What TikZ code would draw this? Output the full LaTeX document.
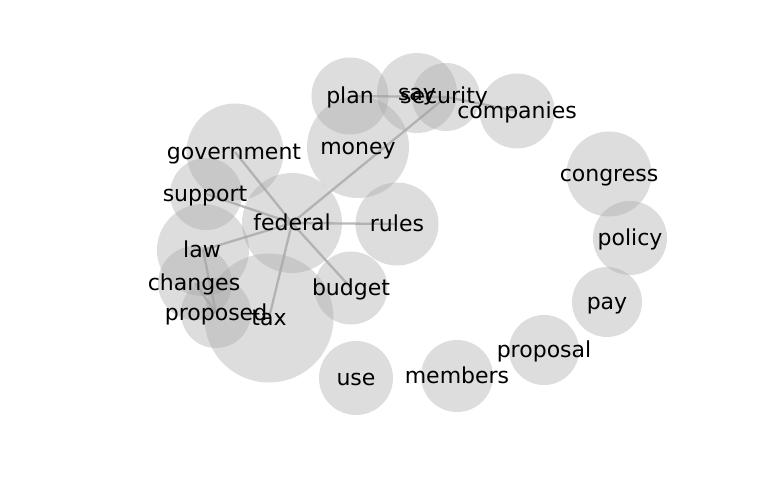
\documentclass[tikz,border=0pt]{standalone}
\usepackage{fontspec}
\setmainfont{DejaVu Sans}
\definecolor{nodefill}{gray}{0.65}
\definecolor{edgecol}{gray}{0.5}
\tikzset{
  bub/.style={circle, fill=nodefill, fill opacity=0.38, draw=none, inner sep=0pt, minimum size=#1},
  word/.style={font=\fontsize{22}{26}\selectfont, text=black, inner sep=0pt, text height=18.7pt, text depth=3.2pt},
  edge/.style={draw=edgecol, draw opacity=0.55, line width=2.3pt}
}
\begin{document}
\begin{tikzpicture}[x=1pt,y=-1pt]
\useasboundingbox (0,0) rectangle (768,500);
% circle centres
\coordinate (plan) at (350,96);
\coordinate (say) at (417,93);
\coordinate (security) at (446,97);
\coordinate (companies) at (517,111);
\coordinate (money) at (358,147);
\coordinate (government) at (235,152);
\coordinate (support) at (206,194);
\coordinate (federal) at (292,223);
\coordinate (rules) at (397,224);
\coordinate (law) at (203,250);
\coordinate (changes) at (195,283);
\coordinate (proposed) at (216,313);
\coordinate (tax) at (269,318);
\coordinate (budget) at (351,288);
\coordinate (congress) at (609,174);
\coordinate (policy) at (630,238);
\coordinate (pay) at (607,302);
\coordinate (proposal) at (544,350);
\coordinate (members) at (457,376);
\coordinate (use) at (356,378);
% edges
\draw[edge] (federal) -- (government);
\draw[edge] (federal) -- (support);
\draw[edge] (federal) -- (law);
\draw[edge] (federal) -- (rules);
\draw[edge] (federal) -- (budget);
\draw[edge] (federal) -- (tax);
\draw[edge] (federal) -- (security);
\draw[edge] (plan) -- (security);
\draw[edge] (security) -- (companies);
\draw[edge] (law) -- (proposed);
\draw[edge] (changes) -- (proposed);
% bubbles
\node[bub=77pt] (cplan) at (plan) {};
\node[bub=80pt] (csay) at (say) {};
\node[bub=68pt] (csecurity) at (security) {};
\node[bub=75pt] (ccompanies) at (companies) {};
\node[bub=102pt] (cmoney) at (money) {};
\node[bub=97pt] (cgovernment) at (government) {};
\node[bub=72pt] (csupport) at (support) {};
\node[bub=100pt] (cfederal) at (federal) {};
\node[bub=83pt] (crules) at (rules) {};
\node[bub=92pt] (claw) at (law) {};
\node[bub=74pt] (cchanges) at (changes) {};
\node[bub=70pt] (cproposed) at (proposed) {};
\node[bub=129pt] (ctax) at (tax) {};
\node[bub=73pt] (cbudget) at (budget) {};
\node[bub=85pt] (ccongress) at (congress) {};
\node[bub=74pt] (cpolicy) at (policy) {};
\node[bub=70pt] (cpay) at (pay) {};
\node[bub=70pt] (cproposal) at (proposal) {};
\node[bub=72pt] (cmembers) at (members) {};
\node[bub=74pt] (cuse) at (use) {};
% labels
\node[word] (tplan) at (plan) {plan};
\node[word] (tsay) at (say) {say};
\node[word] (tsecurity) at (444,96) {security};
\node[word] (tcompanies) at (companies) {companies};
\node[word] (tmoney) at (money) {money};
\node[word] (tgovernment) at (234,152) {government};
\node[word] (tsupport) at (205,194) {support};
\node[word] (tfederal) at (federal) {federal};
\node[word] (trules) at (rules) {rules};
\node[word] (tlaw) at (202,250) {law};
\node[word] (tchanges) at (194,283) {changes};
\node[word] (tproposed) at (proposed) {proposed};
\node[word] (ttax) at (tax) {tax};
\node[word] (tbudget) at (budget) {budget};
\node[word] (tcongress) at (congress) {congress};
\node[word] (tpolicy) at (policy) {policy};
\node[word] (tpay) at (pay) {pay};
\node[word] (tproposal) at (proposal) {proposal};
\node[word] (tmembers) at (members) {members};
\node[word] (tuse) at (use) {use};
\end{tikzpicture}
\end{document}
